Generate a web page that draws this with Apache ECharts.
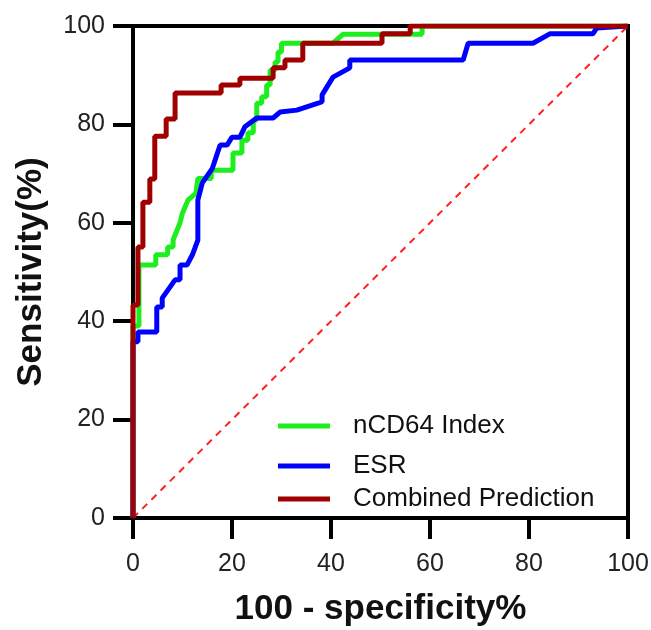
<!DOCTYPE html>
<html><head><meta charset="utf-8">
<script src="https://cdn.jsdelivr.net/npm/echarts@6/dist/echarts.min.js"></script>
<style>html,body{margin:0;padding:0;background:#fff}#c{width:651px;height:630px}</style>
</head><body><div id="c"></div>
<script>
var xTicks = [0, 20, 40, 60, 80, 100];
var yTicks = [0, 20, 40, 60, 80, 100];
var seriesNames = ['nCD64 Index', 'ESR', 'Combined Prediction'];

var nCD64X = [0,0,1.2,1.2,4.6,4.6,7,7,8.1,8.1,9.5,10,11.1,12.7,13.1,15.8,15.8,20.2,20.2,22,22,23.2,23.2,24.3,24.3,25,25,26,26,27,27,27.7,27.7,28.7,28.7,29.3,29.3,30,30,40.4,42.4,58.4,58.4,100];
var nCD64Y = [0,39,39,51.4,51.4,53.5,53.5,55.1,55.1,56.5,60,62,64.6,66,69,69,70.7,70.7,74.2,74.2,76.8,76.8,78.3,78.3,80.9,80.9,84.3,84.3,85.6,85.6,88,88,91,91,92.7,92.7,94.7,94.7,96.5,96.5,98.3,98.3,100,100];

var esrX = [0,0,1,1,4.8,4.8,5.9,5.9,8.5,9.5,9.5,10.9,12,13.1,13.1,14,16,17.6,19,20,21.6,22.6,25,28.3,29.7,33.1,37.4,38.2,38.2,40.4,43.8,43.8,66.7,67.7,80.8,84.2,92.9,93.7,100];
var esrY = [0,35.8,35.8,37.8,37.8,42.9,42.9,44.7,48.4,48.4,51.4,51.4,53.5,56.5,64.6,68.1,71,75.8,75.8,77.4,77.4,79.5,81.3,81.3,82.5,82.9,84.3,84.6,86,89.6,91.5,93.1,93.1,96.5,96.5,98.4,98.4,99.6,100];

var combX = [0,0,1,1,2,2,3.4,3.4,4.4,4.4,6.7,6.7,8.5,8.5,17.8,17.8,21.6,21.6,28.3,28.3,30.7,30.7,34.3,34.3,50.3,50.3,56,56,100];
var combY = [0,43.3,43.3,55.1,55.1,64.2,64.2,68.9,68.9,77.6,77.6,81.1,81.1,86.4,86.4,88,88,89.4,89.4,91.5,91.5,93.1,93.1,96.5,96.5,98.4,98.4,100,100];

var diagX = [0, 100];
var diagY = [0, 100];

function pairs(xs, ys) { return xs.map(function (x, i) { return [x, ys[i]]; }); }

var FONT = '"Liberation Sans", Arial, sans-serif';
var colors = ['#1EEE1E', '#0000FF', '#A00000'];

function legendFor(name, top) {
  return {
    data: [name], left: 273, top: top, orient: 'vertical',
    itemWidth: 52, itemHeight: 5, icon: 'rect',
    textStyle: { fontFamily: FONT, fontSize: 26, color: '#111', padding: [0, 0, 0, 18] }
  };
}

var chart = echarts.init(document.getElementById('c'), null, { renderer: 'canvas' });
chart.setOption({
  animation: false,
  backgroundColor: '#fff',
  grid: { left: 133, right: 23, top: 26, bottom: 112, outerBoundsMode: 'none', containLabel: false,
          show: true, borderColor: '#000', borderWidth: 4, backgroundColor: 'transparent' },
  legend: [legendFor(seriesNames[0], 408), legendFor(seriesNames[1], 448), legendFor(seriesNames[2], 481)],
  xAxis: {
    type: 'value', min: xTicks[0], max: xTicks[xTicks.length - 1], interval: 20,
    name: '100 - specificity%', nameLocation: 'middle', nameGap: 74,
    nameTextStyle: { fontFamily: FONT, fontSize: 35, fontWeight: 'bold', color: '#111' },
    axisLine: { lineStyle: { color: '#000', width: 4 } },
    axisTick: { length: 21, lineStyle: { color: '#000', width: 4 } },
    axisLabel: { fontFamily: FONT, fontSize: 25, color: '#222', margin: 34 },
    splitLine: { show: false }
  },
  yAxis: {
    type: 'value', min: yTicks[0], max: yTicks[yTicks.length - 1], interval: 20,
    name: 'Sensitivity(%)', nameLocation: 'middle', nameGap: 84,
    nameTextStyle: { fontFamily: FONT, fontSize: 35, fontWeight: 'bold', color: '#111' },
    axisLine: { lineStyle: { color: '#000', width: 4 } },
    axisTick: { length: 20, lineStyle: { color: '#000', width: 4 } },
    axisLabel: { fontFamily: FONT, fontSize: 25, color: '#222', margin: 28 },
    splitLine: { show: false }
  },
  series: [
    { name: 'diag', type: 'line', data: pairs(diagX, diagY), showSymbol: false, silent: true,
      lineStyle: { color: '#FF2020', width: 2, type: [7, 6] }, z: 1 },
    { name: seriesNames[0], type: 'line', data: pairs(nCD64X, nCD64Y), showSymbol: false,
      color: colors[0], lineStyle: { color: colors[0], width: 5 }, z: 2 },
    { name: seriesNames[1], type: 'line', data: pairs(esrX, esrY), showSymbol: false,
      color: colors[1], lineStyle: { color: colors[1], width: 5 }, z: 3 },
    { name: seriesNames[2], type: 'line', data: pairs(combX, combY), showSymbol: false,
      color: colors[2], lineStyle: { color: colors[2], width: 5 }, z: 4 }
  ]
});
</script></body></html>
